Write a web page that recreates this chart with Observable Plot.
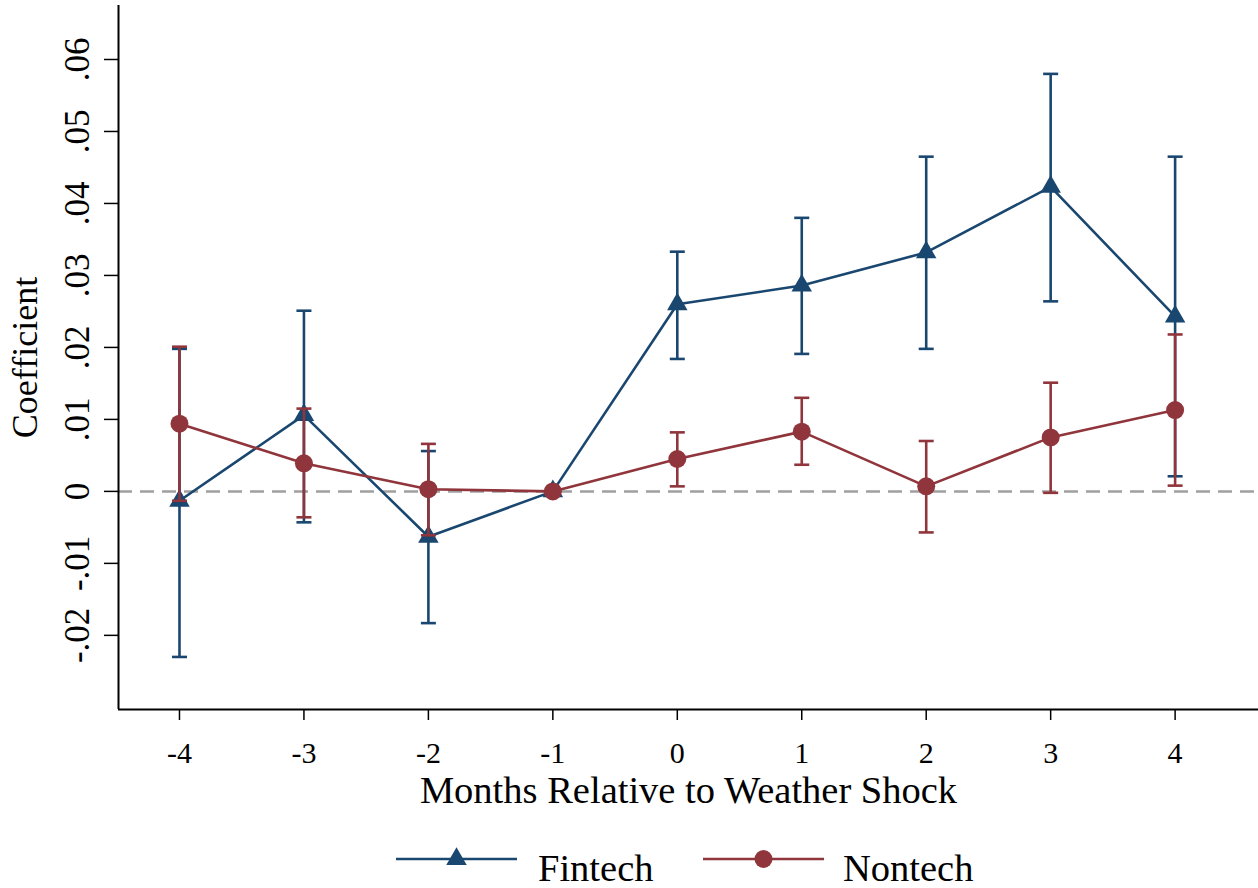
<!DOCTYPE html>
<html>
<head>
<meta charset="utf-8">
<script src="https://cdn.jsdelivr.net/npm/d3@7"></script>
<script src="https://cdn.jsdelivr.net/npm/@observablehq/plot@0.6"></script>
<style>
  body { margin: 0; background: #fff; font-family: "Liberation Serif", serif; }
  #wrap { width: 1258px; }
  #legend { position: relative; width: 1258px; height: 58px; }
  #legend .sw { position: absolute; top: 0; }
  #legend .lab { position: absolute; font-size: 38.5px; line-height: 1; color: #000; }
</style>
</head>
<body>
<div id="wrap">
  <div id="chart"></div>
  <div id="legend"></div>
</div>
<script>
// ---- data ----
const months = [-4, -3, -2, -1, 0, 1, 2, 3, 4];
const fintechCoef = [-0.0013, 0.0106, -0.0063, 0, 0.0260, 0.0286, 0.0332, 0.0423, 0.0243];
const fintechLo   = [-0.0230, -0.0043, -0.0183, 0, 0.0184, 0.0191, 0.0198, 0.0264, 0.0021];
const fintechHi   = [0.0198, 0.0251, 0.0056, 0, 0.0333, 0.0380, 0.0465, 0.0580, 0.0465];
const nontechCoef = [0.0094, 0.0039, 0.0003, 0, 0.0045, 0.0083, 0.0007, 0.0075, 0.0113];
const nontechLo   = [-0.0013, -0.0036, -0.0061, 0, 0.0007, 0.0037, -0.0057, -0.0002, 0.0008];
const nontechHi   = [0.0201, 0.0115, 0.0066, 0, 0.0082, 0.0130, 0.0070, 0.0151, 0.0218];
const yTicks = [-0.02, -0.01, 0, 0.01, 0.02, 0.03, 0.04, 0.05, 0.06];
const seriesNames = ["Fintech", "Nontech"];
const xLabel = "Months Relative to Weather Shock";
const yLabel = "Coefficient";

const colors = {Fintech: "#1a476f", Nontech: "#90353b"};
const xDomain = [-4.49, 4.67];
const yDomain = [-0.0303, 0.0675];

const fintech = months.map((m, i) => ({x: m, y: fintechCoef[i], lo: fintechLo[i], hi: fintechHi[i]}));
const nontech = months.map((m, i) => ({x: m, y: nontechCoef[i], lo: nontechLo[i], hi: nontechHi[i]}));
const fintechCI = fintech.filter(d => d.hi !== d.lo);
const nontechCI = nontech.filter(d => d.hi !== d.lo);

const cap = {draw(ctx) { ctx.moveTo(-7.5, 0); ctx.lineTo(7.5, 0); }};
const fmtY = d => d === 0 ? "0" : d.toFixed(2).replace(/^(-?)0\./, "$1.");
const fmtX = d => String(d);

function seriesMarks(data, ci, color, symbol, r) {
  return [
    Plot.ruleX(ci, {x: "x", y1: "lo", y2: "hi", stroke: color, strokeWidth: 2.6}),
    Plot.dot(ci, {x: "x", y: "lo", symbol: cap, stroke: color, strokeWidth: 2.6, fill: "none"}),
    Plot.dot(ci, {x: "x", y: "hi", symbol: cap, stroke: color, strokeWidth: 2.6, fill: "none"}),
    Plot.line(data, {x: "x", y: "y", stroke: color, strokeWidth: 2.6}),
    Plot.dot(data, {x: "x", y: "y", symbol, r, fill: color, stroke: "none"})
  ];
}

const chart = Plot.plot({
  width: 1258,
  height: 830,
  marginLeft: 118,
  marginRight: 0,
  marginTop: 5,
  marginBottom: 121,
  style: {fontFamily: "Liberation Serif, serif", background: "#fff", color: "#000", fontSize: "30px"},
  x: {domain: xDomain},
  y: {domain: yDomain},
  marks: [
    Plot.ruleY([0], {stroke: "#a0a0a0", strokeWidth: 2.5, strokeDasharray: "14,8"}),
    ...seriesMarks(fintech, fintechCI, colors.Fintech, "triangle", 7.6),
    ...seriesMarks(nontech, nontechCI, colors.Nontech, "circle", 9),
    Plot.ruleX([xDomain[0]], {stroke: "#000", strokeWidth: 2}),
    Plot.ruleY([yDomain[0]], {stroke: "#000", strokeWidth: 2}),
    // tick marks
    Plot.axisX({ticks: months, tickFormat: () => "", tickSize: 11, label: null, strokeWidth: 1.5}),
    Plot.axisY({ticks: yTicks, tickFormat: () => "", tickSize: 14, label: null, strokeWidth: 1.5}),
    // tick labels
    Plot.text(months, {x: d => d, text: fmtX, frameAnchor: "bottom", lineAnchor: "bottom", dy: 53, fontSize: 30}),
    Plot.text(yTicks, {y: d => d, text: fmtY, frameAnchor: "left", textAnchor: "middle", lineAnchor: "bottom",
                       rotate: -90, dx: -30, fontSize: 35}),
    // axis titles
    Plot.text([xLabel], {frameAnchor: "bottom", lineAnchor: "bottom", dy: 93, fontSize: 38.5}),
    Plot.text([yLabel], {frameAnchor: "left", textAnchor: "middle", lineAnchor: "middle", dx: -93, rotate: -90, fontSize: 36})
  ]
});
document.getElementById("chart").appendChild(chart);

// ---- legend ----
const legend = document.getElementById("legend");
const ns = "http://www.w3.org/2000/svg";
const legendItems = [
  {name: seriesNames[0], left: 396, textLeft: 538, symbol: d3.symbol(d3.symbolTriangle, Math.PI * 7.6 * 7.6)},
  {name: seriesNames[1], left: 703, textLeft: 843, symbol: d3.symbol(d3.symbolCircle, Math.PI * 9 * 9)}
];
legendItems.forEach(it => {
  const svg = document.createElementNS(ns, "svg");
  svg.setAttribute("class", "sw");
  svg.setAttribute("width", 122);
  svg.setAttribute("height", 58);
  svg.style.left = it.left + "px";
  const line = document.createElementNS(ns, "line");
  line.setAttribute("x1", 0); line.setAttribute("x2", 121);
  line.setAttribute("y1", 29); line.setAttribute("y2", 29);
  line.setAttribute("stroke", colors[it.name]); line.setAttribute("stroke-width", 2.6);
  svg.appendChild(line);
  const p = document.createElementNS(ns, "path");
  p.setAttribute("d", it.symbol());
  p.setAttribute("transform", "translate(60.5,29)");
  p.setAttribute("fill", colors[it.name]);
  svg.appendChild(p);
  legend.appendChild(svg);
  const t = document.createElement("div");
  t.className = "lab";
  t.textContent = it.name;
  t.style.left = it.textLeft + "px";
  t.style.top = "19px";
  legend.appendChild(t);
});
</script>
</body>
</html>
